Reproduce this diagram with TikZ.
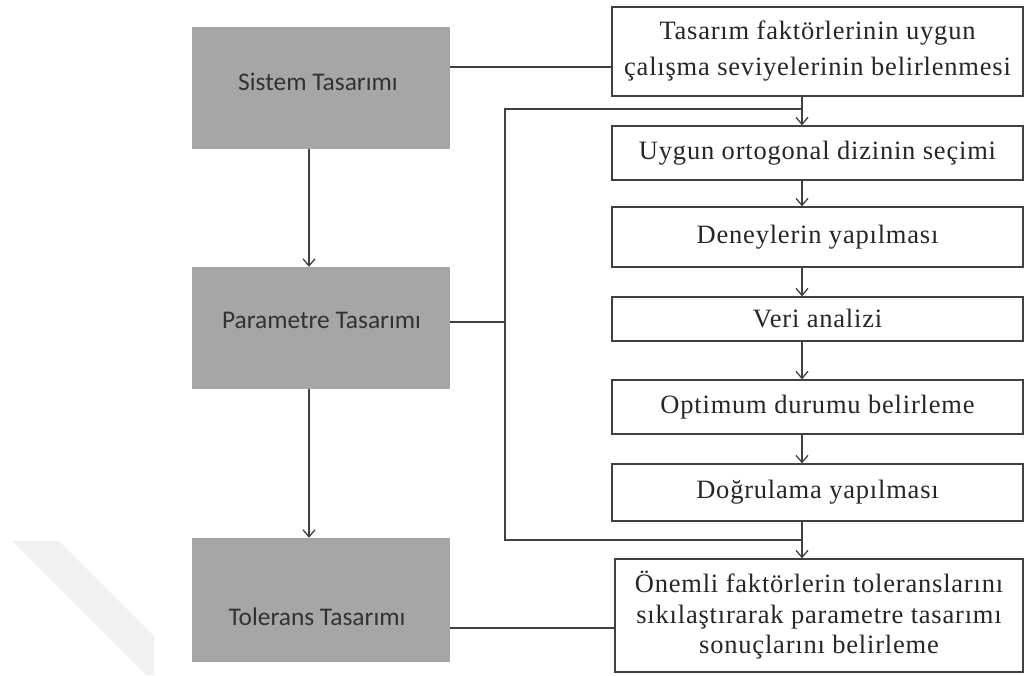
\documentclass[tikz,border=0pt]{standalone}
\usepackage{fontspec}
\setmainfont{Liberation Serif}[LetterSpace=3]
\newfontfamily\boxsans{Carlito}
\usetikzlibrary{arrows.meta}
\definecolor{boxgray}{RGB}{166,166,166}
\definecolor{linegray}{RGB}{64,64,64}
\definecolor{txtgray}{RGB}{50,50,50}
\definecolor{markgray}{RGB}{241,241,241}

\begin{document}
\begin{tikzpicture}[x=1pt,y=-1pt,
  phase/.style={fill=boxgray, draw=none, inner sep=0pt, minimum width=258pt},
  phaselabel/.style={font=\boxsans\fontsize{25.4}{30}\selectfont, text=txtgray, inner sep=0pt},
  stepbox/.style={draw=linegray, line width=1.3pt, fill=white, inner sep=0pt,
    minimum width=411pt, font=\fontsize{26.5}{36}\selectfont, align=center, text=black!85},
  link/.style={draw=linegray, line width=1.3pt},
  flow/.style={link, -{Straight Barb[length=7pt,width=12pt,line width=1.3pt]}},
]
\useasboundingbox (0,0) rectangle (1025,675);

% faint diagonal mark in the lower left corner
\fill[markgray] (12,541) -- (59,541) -- (154,636) -- (154,675) -- (146,675) -- cycle;

% the three design phases
\node[phase, minimum height=122pt] (sis) at (321,88) {};
\node[phaselabel] (sisT) at (318,82) {Sistem Tasarımı};
\node[phase, minimum height=122pt] (par) at (321,328) {};
\node[phaselabel] (parT) at (321.5,320) {Parametre Tasarımı};
\node[phase, minimum height=124pt] (tol) at (321,600) {};
\node[phaselabel] (tolT) at (317,617) {Tolerans Tasarımı};

% steps on the right
\node[stepbox, minimum height=89pt] (r0) at (817.5,51.5)
  {Tasarım faktörlerinin uygun\\çalışma seviyelerinin belirlenmesi};
\node[stepbox, minimum height=54pt] (r1) at (817.5,153) {Uygun ortogonal dizinin seçimi};
\node[stepbox, minimum height=60pt] (r2) at (817.5,237) {Deneylerin yapılması};
\node[stepbox, minimum height=44pt] (r3) at (817.5,319) {Veri analizi};
\node[stepbox, minimum height=54pt] (r4) at (817.5,407) {Optimum durumu belirleme};
\node[stepbox, minimum height=57pt] (r5) at (817.5,492.5) {Doğrulama yapılması};
\node[stepbox, minimum height=113pt, minimum width=408pt,
      font=\fontsize{26.5}{30.5}\selectfont] (r6) at (819,615.5)
  {Önemli faktörlerin toleranslarını\\sıkılaştırarak parametre tasarımı\\sonuçlarını belirleme};

% helper coordinates for the connector routes
\coordinate (ax) at (802,0);
\coordinate (lx) at (309,0);
\coordinate (loopTop) at (505,109);
\coordinate (loopBot) at (505,540);
\coordinate (parJoin) at (505,322);
\coordinate (h1) at (0,67);
\coordinate (h2) at (0,628);

% horizontal links from the phases
\draw[link] (sis.east |- h1) -- (r0.west |- h1);
\draw[link] (par.east |- parJoin) -- (parJoin);
\draw[link] (tol.east |- h2) -- (r6.west |- h2);

% bracket around the parameter design steps
\draw[link] (loopTop -| ax) -- (loopTop) -- (loopBot) -- (loopBot -| ax);

% step arrows
\draw[flow] (r0.south -| ax) -- (r1.north -| ax);
\draw[flow] (r1.south -| ax) -- (r2.north -| ax);
\draw[flow] (r2.south -| ax) -- (r3.north -| ax);
\draw[flow] (r3.south -| ax) -- (r4.north -| ax);
\draw[flow] (r4.south -| ax) -- (r5.north -| ax);
\draw[flow] (r5.south -| ax) -- (r6.north -| ax);

% phase arrows
\draw[flow] (sis.south -| lx) -- (par.north -| lx);
\draw[flow] (par.south -| lx) -- (tol.north -| lx);
\end{tikzpicture}
\end{document}
